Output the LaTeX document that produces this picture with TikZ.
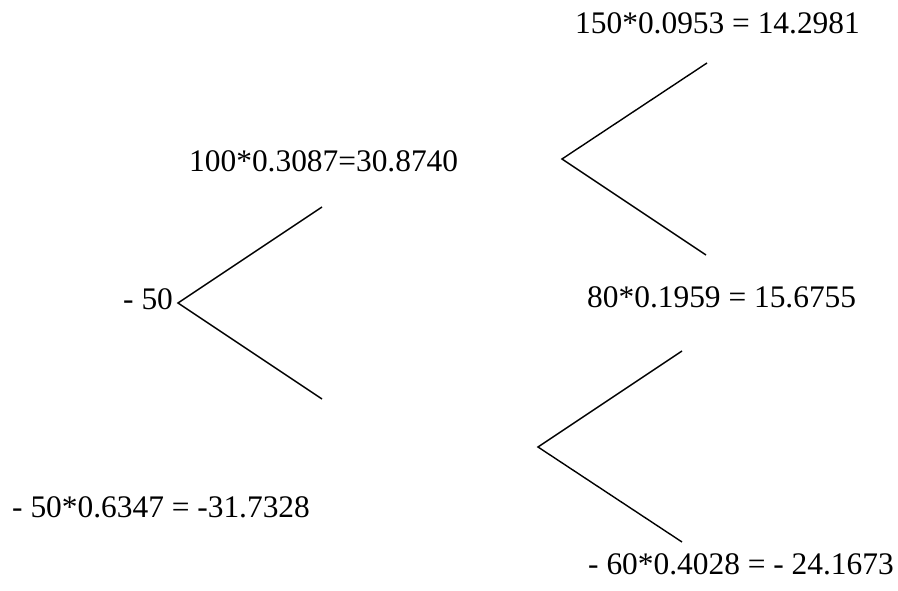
\documentclass[tikz,border=0pt]{standalone}
\usepackage{fontspec}
\setmainfont{Liberation Serif}
\begin{document}
\begin{tikzpicture}[x=1pt,y=1pt,
  lbl/.style={inner sep=0pt, anchor=base west, font=\fontsize{31.4}{36}\selectfont},
  branch/.style={line width=1.4pt, line join=miter}]
\useasboundingbox (0,0) rectangle (898,590);
% labels
\node[lbl] (t1) at (575,556) {150*0.0953 = 14.2981};
\node[lbl] (t2) at (189,418) {100*0.3087=30.8740};
\node[lbl] (t3) at (123,280) {- 50};
\node[lbl] (t4) at (587,282) {80*0.1959 = 15.6755};
\node[lbl] (t5) at (12,73) {- 50*0.6347 = -31.7328};
\node[lbl] (t6) at (588,16) {- 60*0.4028 = - 24.1673};
% branch points
\coordinate (a0) at (178,287);
\coordinate (a1) at (322,383);
\coordinate (a2) at (322,191);
\coordinate (b0) at (562,431);
\coordinate (b1) at (707,527);
\coordinate (b2) at (706,335);
\coordinate (c0) at (538,143);
\coordinate (c1) at (682,239);
\coordinate (c2) at (682,48);
\draw[branch] (a1) -- (a0) -- (a2);
\draw[branch] (b1) -- (b0) -- (b2);
\draw[branch] (c1) -- (c0) -- (c2);
\end{tikzpicture}
\end{document}
